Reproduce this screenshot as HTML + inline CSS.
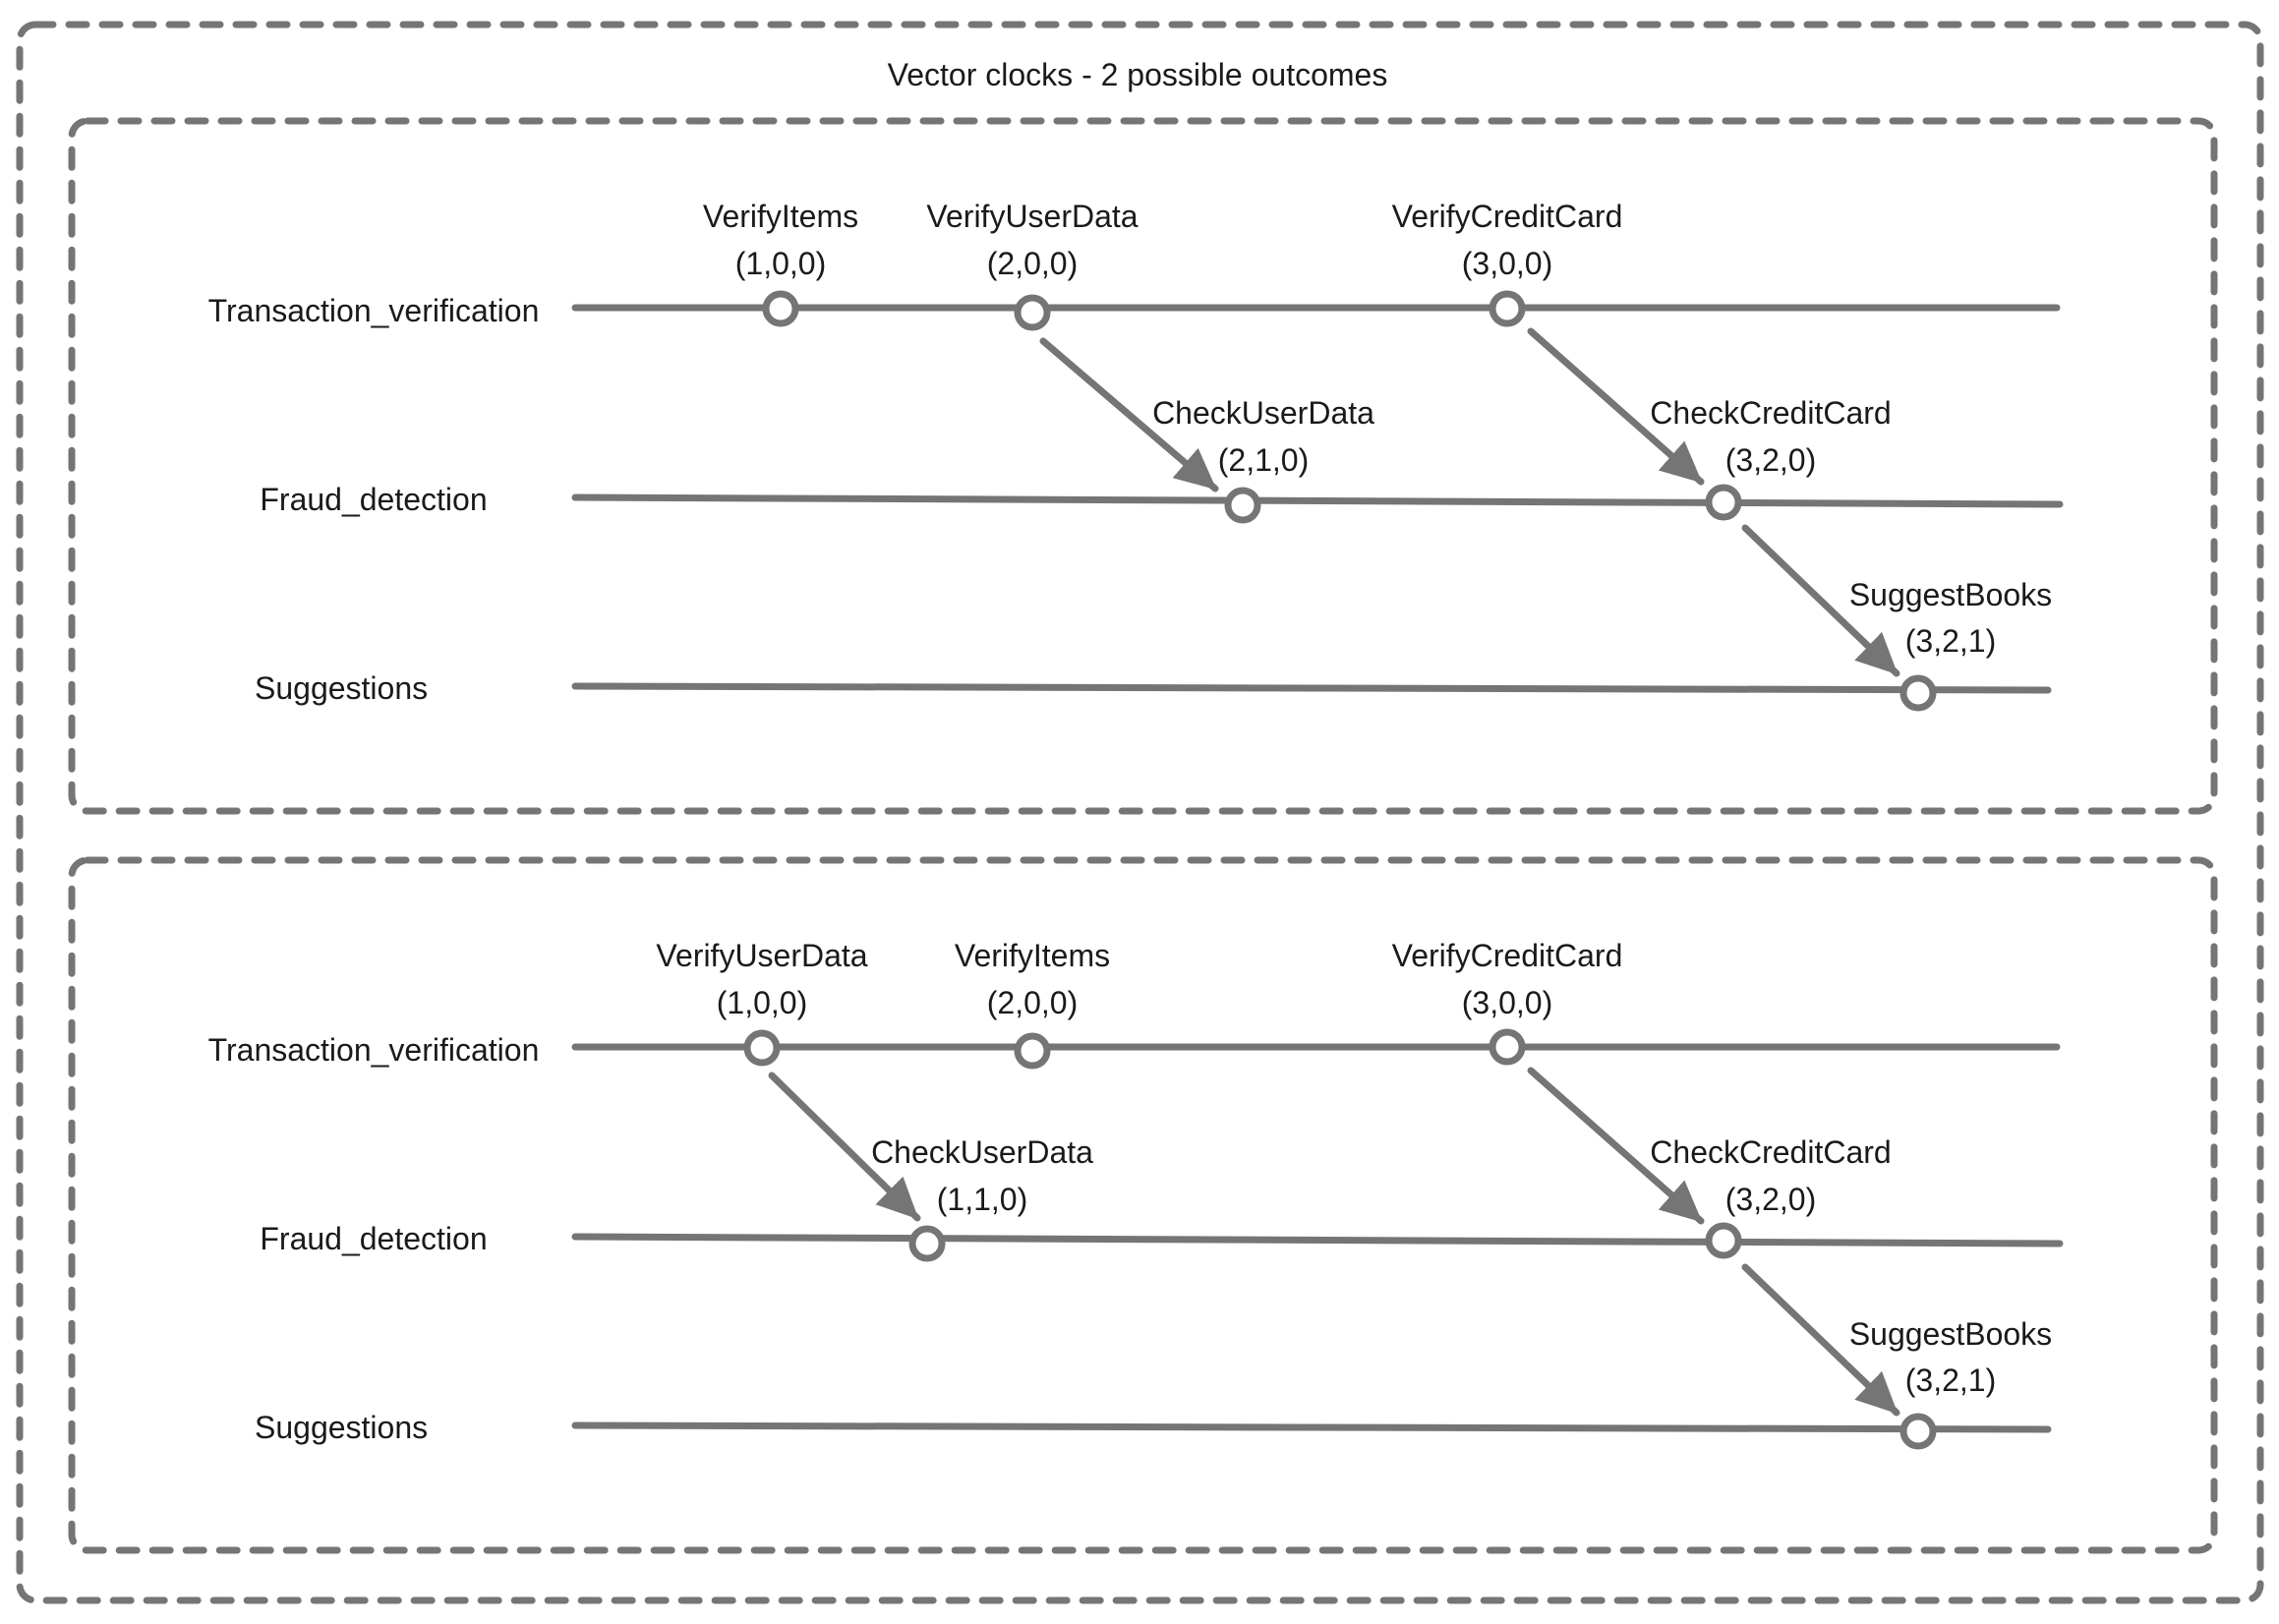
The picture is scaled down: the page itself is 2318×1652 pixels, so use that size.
<!DOCTYPE html>
<html><head><meta charset="utf-8"><style>
html,body{margin:0;padding:0;background:#fff}
svg{display:block}
text{font-family:"Liberation Sans",sans-serif;font-size:32px;fill:#1a1a1a}
</style></head><body>
<svg width="2318" height="1652" viewBox="0 0 2318 1652" xmlns="http://www.w3.org/2000/svg">
<defs>
<marker id="ah" markerUnits="userSpaceOnUse" markerWidth="44" markerHeight="44" refX="40" refY="20" orient="auto">
<path d="M0,0 L42,20 L0,40 Z" fill="#757575"/>
</marker>
</defs>
<g fill="none" stroke="#757575" stroke-width="7" stroke-linecap="round" stroke-dasharray="18 16">
<rect x="20" y="25" width="2279" height="1603" rx="16"/>
<rect x="73" y="123" width="2179" height="702" rx="16"/>
<rect x="73" y="875" width="2179" height="702" rx="16"/>
</g>
<text x="1157" y="87" text-anchor="middle">Vector clocks - 2 possible outcomes</text>

<g id="p1">
<g stroke="#757575" stroke-width="7" stroke-linecap="round" fill="none">
<line x1="585" y1="313" x2="2092" y2="313"/>
<line x1="585" y1="506" x2="2095" y2="513"/>
<line x1="585" y1="698" x2="2083" y2="702"/>
<line x1="1061" y1="347" x2="1236" y2="497" marker-end="url(#ah)"/>
<line x1="1557" y1="337" x2="1730" y2="490" marker-end="url(#ah)"/>
<line x1="1775" y1="537" x2="1929" y2="685" marker-end="url(#ah)"/>
</g>
<g stroke="#757575" stroke-width="7" fill="#fff">
<circle cx="794" cy="314" r="15"/>
<circle cx="1050" cy="318" r="15"/>
<circle cx="1533" cy="314" r="15"/>
<circle cx="1264" cy="514" r="15"/>
<circle cx="1753" cy="511" r="15"/>
<circle cx="1951" cy="705" r="15"/>
</g>
<text x="380" y="327" text-anchor="middle">Transaction_verification</text>
<text x="380" y="519" text-anchor="middle">Fraud_detection</text>
<text x="259" y="711">Suggestions</text>
<g text-anchor="middle">
<text x="794" y="231">VerifyItems</text><text x="794" y="279">(1,0,0)</text>
<text x="1050" y="231">VerifyUserData</text><text x="1050" y="279">(2,0,0)</text>
<text x="1533" y="231">VerifyCreditCard</text><text x="1533" y="279">(3,0,0)</text>
<text x="1285" y="431">CheckUserData</text><text x="1285" y="479">(2,1,0)</text>
<text x="1801" y="431">CheckCreditCard</text><text x="1801" y="479">(3,2,0)</text>
<text x="1984" y="616">SuggestBooks</text><text x="1984" y="663">(3,2,1)</text>
</g>
</g>

<g transform="translate(0,752)">
<g stroke="#757575" stroke-width="7" stroke-linecap="round" fill="none">
<line x1="585" y1="313" x2="2092" y2="313"/>
<line x1="585" y1="506" x2="2095" y2="513"/>
<line x1="585" y1="698" x2="2083" y2="702"/>
<line x1="785" y1="342" x2="933" y2="487" marker-end="url(#ah)"/>
<line x1="1557" y1="337" x2="1730" y2="490" marker-end="url(#ah)"/>
<line x1="1775" y1="537" x2="1929" y2="685" marker-end="url(#ah)"/>
</g>
<g stroke="#757575" stroke-width="7" fill="#fff">
<circle cx="775" cy="314" r="15"/>
<circle cx="1050" cy="317" r="15"/>
<circle cx="1533" cy="313" r="15"/>
<circle cx="943" cy="513" r="15"/>
<circle cx="1753" cy="510" r="15"/>
<circle cx="1951" cy="704" r="15"/>
</g>
<text x="380" y="327" text-anchor="middle">Transaction_verification</text>
<text x="380" y="519" text-anchor="middle">Fraud_detection</text>
<text x="259" y="711">Suggestions</text>
<g text-anchor="middle">
<text x="775" y="231">VerifyUserData</text><text x="775" y="279">(1,0,0)</text>
<text x="1050" y="231">VerifyItems</text><text x="1050" y="279">(2,0,0)</text>
<text x="1533" y="231">VerifyCreditCard</text><text x="1533" y="279">(3,0,0)</text>
<text x="999" y="431">CheckUserData</text><text x="999" y="479">(1,1,0)</text>
<text x="1801" y="431">CheckCreditCard</text><text x="1801" y="479">(3,2,0)</text>
<text x="1984" y="616">SuggestBooks</text><text x="1984" y="663">(3,2,1)</text>
</g>
</g>
</svg>
</body></html>
